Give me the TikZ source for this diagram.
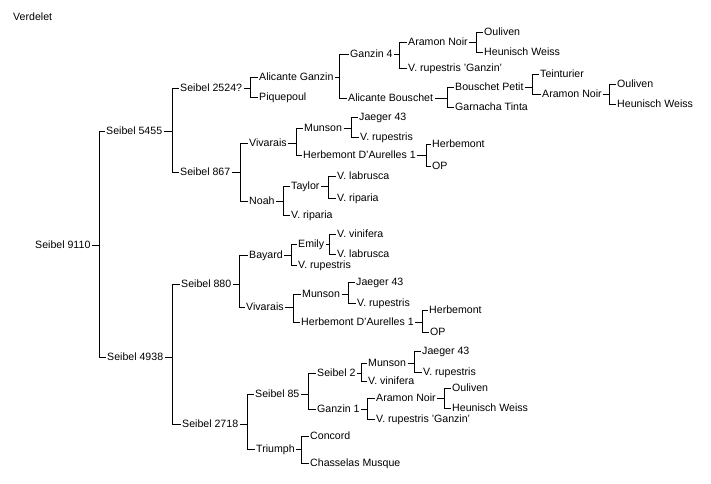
\documentclass[tikz,border=0pt]{standalone}
\usepackage{fontspec}
\setmainfont{Liberation Sans}
\newcommand\brk[4]{%
  \coordinate (v-#1) at (#2,0);
  \draw[conn] (#1.east) -- (#1.east -| v-#1);
  \draw[conn] (#3.west) -- (#3.west -| v-#1) -- (#4.west -| v-#1) -- (#4.west);}
\newcommand\N[4]{\node[lbl] (#1) at ({#2-1.5},#3) {#4};}
\begin{document}
\begin{tikzpicture}[x=1pt,y=-1pt,
  lbl/.style={anchor=west, inner xsep=1.5pt, inner ysep=0pt, text height=7.5pt, text depth=0pt, font=\fontsize{10.6}{12}\selectfont},
  conn/.style={line width=1pt}]
\useasboundingbox[fill=white] (0,0) rectangle (711,483);
\N{ver}{13}{17}{Verdelet}
% upper half
\N{a}{35}{245}{Seibel 9110}
\N{b}{106}{131}{Seibel 5455}
\N{b1}{180}{88}{Seibel 2524?}
\N{b11}{259}{77}{Alicante Ganzin}
\N{b12}{259}{97}{Piquepoul}
\N{gz4}{350}{54}{Ganzin 4}
\N{an1}{408}{42}{Aramon Noir}
\N{ou1}{484}{32}{Ouliven}
\N{hw1}{484}{52}{Heunisch Weiss}
\N{vrg1}{408}{68}{V. rupestris 'Ganzin'}
\N{ab}{348}{98}{Alicante Bouschet}
\N{bp}{455}{87}{Bouschet Petit}
\N{te}{540}{74}{Teinturier}
\N{an2}{542}{94}{Aramon Noir}
\N{ou2}{617}{84}{Ouliven}
\N{hw2}{617}{104}{Heunisch Weiss}
\N{gt}{455}{107}{Garnacha Tinta}
\N{b2}{180}{172}{Seibel 867}
\N{viv1}{249}{143}{Vivarais}
\N{mun1}{304}{128}{Munson}
\N{j1}{359}{117}{Jaeger 43}
\N{vr1}{360}{137}{V. rupestris}
\N{hda1}{303}{155}{Herbemont D'Aurelles 1}
\N{hb1}{432}{144}{Herbemont}
\N{op1}{432}{166}{OP}
\N{noah}{249}{201}{Noah}
\N{tay}{291}{186}{Taylor}
\N{vl1}{337}{176}{V. labrusca}
\N{vri1}{337}{198}{V. riparia}
\N{vri2}{291}{215}{V. riparia}
% lower half
\N{c}{107}{357}{Seibel 4938}
\N{c1}{181}{284}{Seibel 880}
\N{bay}{249}{255}{Bayard}
\N{emi}{298}{244}{Emily}
\N{vv1}{337}{234}{V. vinifera}
\N{vl2}{337}{254}{V. labrusca}
\N{vr2}{298}{265}{V. rupestris}
\N{viv2}{246}{307}{Vivarais}
\N{mun2}{302}{294}{Munson}
\N{j2}{356}{282}{Jaeger 43}
\N{vr3}{357}{303}{V. rupestris}
\N{hda2}{301}{322}{Herbemont D'Aurelles 1}
\N{hb2}{429}{310}{Herbemont}
\N{op2}{430}{332}{OP}
\N{c2}{182}{424}{Seibel 2718}
\N{s85}{255}{394}{Seibel 85}
\N{s2}{317}{373}{Seibel 2}
\N{mun3}{368}{363}{Munson}
\N{j3}{422}{351}{Jaeger 43}
\N{vr4}{423}{372}{V. rupestris}
\N{vv2}{368}{381}{V. vinifera}
\N{gz1}{317}{409}{Ganzin 1}
\N{an3}{376}{398}{Aramon Noir}
\N{ou3}{452}{388}{Ouliven}
\N{hw3}{452}{408}{Heunisch Weiss}
\N{vrg2}{376}{419}{V. rupestris 'Ganzin'}
\N{tri}{256}{449}{Triumph}
\N{con}{310}{436}{Concord}
\N{cm}{310}{463}{Chasselas Musque}
% brackets
\brk{a}{99.5}{b}{c}
\brk{b}{172.5}{b1}{b2}
\brk{b1}{250.5}{b11}{b12}
\brk{b11}{339.5}{gz4}{ab}
\brk{gz4}{399.5}{an1}{vrg1}
\brk{an1}{476.5}{ou1}{hw1}
\brk{ab}{447.5}{bp}{gt}
\brk{bp}{532.5}{te}{an2}
\brk{an2}{609.5}{ou2}{hw2}
\brk{b2}{240.5}{viv1}{noah}
\brk{viv1}{296.5}{mun1}{hda1}
\brk{mun1}{351.5}{j1}{vr1}
\brk{hda1}{426.5}{hb1}{op1}
\brk{noah}{283.5}{tay}{vri2}
\brk{tay}{328.5}{vl1}{vri1}
\brk{c}{172.5}{c1}{c2}
\brk{c1}{239.5}{bay}{viv2}
\brk{bay}{291.5}{emi}{vr2}
\brk{emi}{329.5}{vv1}{vl2}
\brk{viv2}{293.5}{mun2}{hda2}
\brk{mun2}{348.5}{j2}{vr3}
\brk{hda2}{422.5}{hb2}{op2}
\brk{c2}{247.5}{s85}{tri}
\brk{s85}{308.5}{s2}{gz1}
\brk{s2}{361.5}{mun3}{vv2}
\brk{mun3}{414.5}{j3}{vr4}
\brk{gz1}{367.5}{an3}{vrg2}
\brk{an3}{444.5}{ou3}{hw3}
\brk{tri}{301.5}{con}{cm}
\end{tikzpicture}
\end{document}
